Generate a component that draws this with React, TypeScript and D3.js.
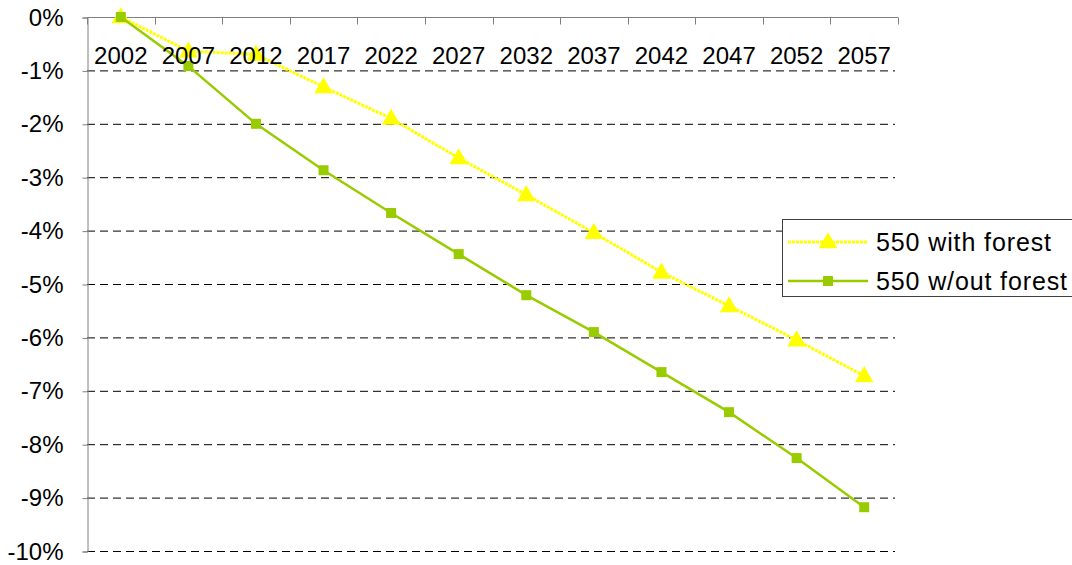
import { useEffect, useRef } from "react";
import * as d3 from "d3";

const years = ["2002", "2007", "2012", "2017", "2022", "2027", "2032", "2037", "2042", "2047", "2052", "2057"];
const withForest = [0, -0.64, -0.7, -1.31, -1.9, -2.64, -3.33, -4.04, -4.78, -5.41, -6.05, -6.72];
const withoutForest = [0, -0.92, -2.0, -2.87, -3.67, -4.44, -5.21, -5.9, -6.65, -7.4, -8.26, -9.18];
const yTicks = [0, -1, -2, -3, -4, -5, -6, -7, -8, -9, -10];
const seriesNames = ["550 with forest", "550 w/out forest"];

const YELLOW = "#FFFF00";
const GREEN = "#99CC00";
const FONT = "'Liberation Sans', Arial, sans-serif";

export default function App() {
  const ref = useRef<SVGSVGElement>(null);

  useEffect(() => {
    const svg = d3.select(ref.current);
    svg.selectAll("*").remove();

    const x = d3.scaleBand().domain(years).range([87, 898]);
    const y = d3.scaleLinear().domain([-10, 0]).range([551, 17]);
    const cx = (d: string) => (x(d) as number) + x.bandwidth() / 2;

    // gridlines
    svg
      .append("g")
      .selectAll("line")
      .data(yTicks.filter((t) => t !== 0))
      .enter()
      .append("line")
      .attr("x1", 87)
      .attr("x2", 895)
      .attr("y1", (d) => y(d) + 0.5)
      .attr("y2", (d) => y(d) + 0.5)
      .attr("stroke", "#000")
      .attr("stroke-dasharray", "8,5");

    // y axis
    const yAxis = d3
      .axisLeft(y)
      .tickValues(yTicks)
      .tickSize(5)
      .tickPadding(19)
      .tickFormat((d) => `${d}%`);
    const gy = svg.append("g").attr("transform", "translate(87.5,0.5)").call(yAxis);
    gy.select(".domain").attr("stroke", "#808080");
    gy.selectAll(".tick line").attr("stroke", "#808080");
    gy.selectAll("text").attr("font-family", FONT).attr("font-size", 24).attr("fill", "#000");

    // x axis at 0% (top)
    const gx = svg.append("g").attr("transform", `translate(0,${y(0) + 0.5})`);
    gx.append("line").attr("x1", 87).attr("x2", 898).attr("stroke", "#808080");
    gx.selectAll("line.tk")
      .data(years.concat(["end"]))
      .enter()
      .append("line")
      .attr("class", "tk")
      .attr("x1", (d, i) => Math.round(87 + i * x.bandwidth()) + 0.5)
      .attr("x2", (d, i) => Math.round(87 + i * x.bandwidth()) + 0.5)
      .attr("y1", 0)
      .attr("y2", 7)
      .attr("stroke", "#808080");

    // lines
    const line = d3
      .line<number>()
      .x((d, i) => cx(years[i]))
      .y((d) => y(d));

    svg
      .append("path")
      .datum(withForest)
      .attr("d", line)
      .attr("fill", "none")
      .attr("stroke", YELLOW)
      .attr("stroke-width", 3)
      .attr("stroke-dasharray", "3,1");

    const tri = d3.symbol().type(d3.symbolTriangle).size(150);
    svg
      .append("g")
      .selectAll("path")
      .data(withForest)
      .enter()
      .append("path")
      .attr("d", tri)
      .attr("transform", (d, i) => `translate(${cx(years[i])},${y(d) + 1})`)
      .attr("fill", YELLOW);

    svg
      .append("path")
      .datum(withoutForest)
      .attr("d", line)
      .attr("fill", "none")
      .attr("stroke", GREEN)
      .attr("stroke-width", 2.5);

    svg
      .append("g")
      .selectAll("rect")
      .data(withoutForest)
      .enter()
      .append("rect")
      .attr("x", (d, i) => cx(years[i]) - 5)
      .attr("y", (d) => y(d) - 5)
      .attr("width", 10)
      .attr("height", 10)
      .attr("fill", GREEN);

    // x labels
    svg
      .append("g")
      .selectAll("text")
      .data(years)
      .enter()
      .append("text")
      .attr("x", cx)
      .attr("y", 64)
      .attr("text-anchor", "middle")
      .attr("font-family", FONT)
      .attr("font-size", 24)
      .text((d) => d);

    // legend
    const lg = svg.append("g").attr("transform", "translate(782,219)");
    lg.append("rect")
      .attr("x", 0.5)
      .attr("y", 0.5)
      .attr("width", 292)
      .attr("height", 77)
      .attr("fill", "#fff")
      .attr("stroke", "#404040");
    const rows = [23, 62];
    lg.append("line")
      .attr("x1", 6)
      .attr("x2", 86)
      .attr("y1", rows[0])
      .attr("y2", rows[0])
      .attr("stroke", YELLOW)
      .attr("stroke-width", 3)
      .attr("stroke-dasharray", "3,1");
    lg.append("path").attr("d", tri).attr("transform", `translate(46,${rows[0] + 1})`).attr("fill", YELLOW);
    lg.append("line")
      .attr("x1", 6)
      .attr("x2", 86)
      .attr("y1", rows[1])
      .attr("y2", rows[1])
      .attr("stroke", GREEN)
      .attr("stroke-width", 2.5);
    lg.append("rect").attr("x", 41).attr("y", rows[1] - 5).attr("width", 10).attr("height", 10).attr("fill", GREEN);
    lg.selectAll("text.lbl")
      .data(seriesNames)
      .enter()
      .append("text")
      .attr("class", "lbl")
      .attr("x", 94)
      .attr("y", (d, i) => rows[i] + 9)
      .attr("font-family", FONT)
      .attr("font-size", 25)
      .attr("textLength", (d, i) => (i === 0 ? 175 : 191))
      .text((d) => d);
  }, []);

  return (
    <svg
      ref={ref}
      width={1072}
      height={565}
      style={{ position: "absolute", left: 0, top: 0, background: "#fff" }}
    />
  );
}
